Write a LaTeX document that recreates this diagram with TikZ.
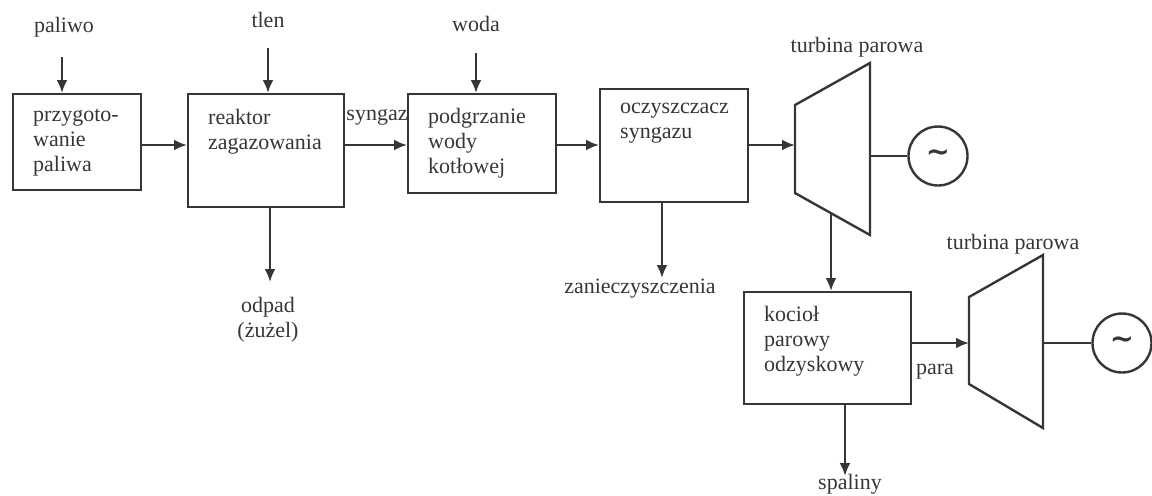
\documentclass[tikz,border=0pt]{standalone}
\usepackage{fontspec}
\setmainfont{Liberation Serif}
\newfontfamily\symfont{DejaVu Sans}
\usetikzlibrary{positioning,arrows.meta}
\definecolor{szary}{HTML}{363636}
\tikzset{
  >={Latex[length=6.5pt,width=5.5pt]},
  every node/.style={font=\fontsize{11}{12.5}\selectfont},
  blok/.style={draw,anchor=north west,inner sep=0pt},
  opis/.style={align=left,inner sep=0pt,anchor=north west},
  gen/.style={circle,draw,minimum size=29.5pt,inner sep=0pt,font={\symfont\bfseries\Large}},
}

\begin{document}
\begin{tikzpicture}[x=0.5pt,y=-0.5pt,line width=1.2pt,color=szary]
  \useasboundingbox (0,0) rectangle (1152,495);
  % bloki
  \node[blok,minimum width=64pt,minimum height=48pt] (przyg) at (12,93) {};
  \node[blok,minimum width=78pt,minimum height=56.5pt] (reaktor) at (187,93) {};
  \node[blok,minimum width=74pt,minimum height=49.5pt] (podgrz) at (407,93) {};
  \node[blok,minimum width=74pt,minimum height=56.5pt] (oczysz) at (599,88) {};
  \node[blok,minimum width=83.5pt,minimum height=56pt] (kociol) at (743,291) {};
  \node[opis,below right=7.5pt and 10pt of przyg.north west] (przyg-t) {przygoto-\\wanie\\paliwa};
  \node[opis,below right=7.5pt and 10pt of reaktor.north west] (reaktor-t) {reaktor\\zagazowania};
  \node[opis,below right=7pt and 10pt of podgrz.north west] (podgrz-t) {podgrzanie\\wody\\kotłowej};
  \node[opis,below right=7pt and 10pt of oczysz.north west] (oczysz-t) {oczyszczacz\\syngazu};
  \node[opis,below right=7pt and 10pt of kociol.north west] (kociol-t) {kocioł\\parowy\\odzyskowy};
  % turbiny i generatory
  \draw (795,105) -- (870,63) -- (870,235) -- (795,193) -- cycle;
  \coordinate (t1-we) at (795,145);
  \coordinate (t1-wal) at (870,156);
  \coordinate (t1-wy) at (831,213);
  \draw (969,297) -- (1043,255) -- (1043,428) -- (969,384) -- cycle;
  \coordinate (t2-we) at (969,343);
  \coordinate (t2-wal) at (1043,343);
  \node[gen] (gen1) at (938,156) {∼};
  \node[gen] (gen2) at (1122,343) {∼};
  % napisy
  \node (paliwo) at (64,27) {paliwo};
  \node (tlen) at (268,20) {tlen};
  \node (woda) at (476,24) {woda};
  \node (syngaz) at (377,117) {syngaz};
  \node (turb1-t) at (857,47) {turbina parowa};
  \node (turb2-t) at (1013,244) {turbina parowa};
  \node (zanieczy) at (640,289) {zanieczyszczenia};
  \node[align=center] (odpad) at (268,320) {odpad\\(żużel)};
  \node (para) at (935,372) {para};
  \node (spaliny) at (850,484) {spaliny};
  \coordinate (paliwo-s) at (62,57);
  \coordinate (tlen-s) at (268,48);
  \coordinate (woda-s) at (476,53);
  \coordinate (odpad-k) at (270,282);
  \coordinate (zanieczy-k) at (662,278);
  \coordinate (spaliny-k) at (845,476);
  \coordinate (glowna) at (0,145);
  % strumienie
  \draw[->] (paliwo-s) -- (paliwo-s |- przyg.north);
  \draw[->] (tlen-s) -- (tlen-s |- reaktor.north);
  \draw[->] (woda-s) -- (woda-s |- podgrz.north);
  \draw[->] (przyg.east |- glowna) -- (reaktor.west |- glowna);
  \draw[->] (reaktor.east |- glowna) -- (podgrz.west |- glowna);
  \draw[->] (podgrz.east |- glowna) -- (oczysz.west |- glowna);
  \draw[->] (oczysz.east |- glowna) -- (t1-we);
  \draw (t1-wal) -- (gen1.west);
  \draw[->] (t1-wy) -- (t1-wy |- kociol.north);
  \draw[->] (kociol.east |- t2-we) -- (t2-we);
  \draw (t2-wal) -- (gen2.west);
  \draw[->] (reaktor.south -| odpad-k) -- (odpad-k);
  \draw[->] (oczysz.south -| zanieczy-k) -- (zanieczy-k);
  \draw[->] (kociol.south -| spaliny-k) -- (spaliny-k);
\end{tikzpicture}
\end{document}
